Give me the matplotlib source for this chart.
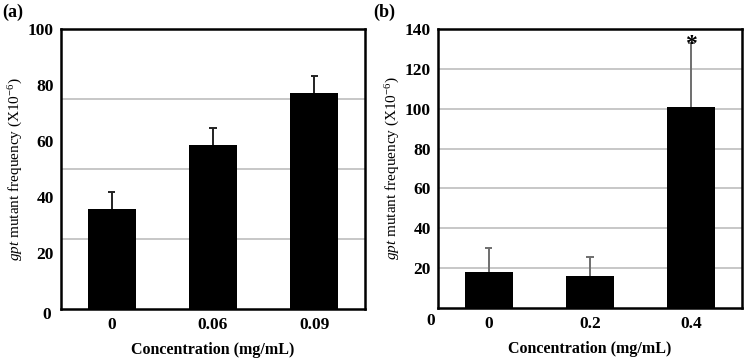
import matplotlib
matplotlib.use("Agg")
import matplotlib.pyplot as plt
import numpy as np

plt.rcParams["font.family"] = ["Liberation Serif", "DejaVu Serif"]
plt.rcParams["mathtext.fontset"] = "custom"
plt.rcParams["mathtext.rm"] = "Liberation Serif"
plt.rcParams["mathtext.it"] = "Liberation Serif:italic"

# panel (a)
conc_a = ["0", "0.06", "0.09"]
freq_a = [35.6, 58.4, 77.0]
err_a = [6.3, 6.3, 6.1]
yticks_a = [0, 20, 40, 60, 80, 100]
grid_a = [25, 50, 75]

# panel (b)
conc_b = ["0", "0.2", "0.4"]
freq_b = [18.2, 16.1, 100.7]
err_b = [12.1, 9.5, 32.4]
yticks_b = [0, 20, 40, 60, 80, 100, 120, 140]
grid_b = [20, 40, 60, 80, 100, 120]

ylab = r"$\it{gpt}$ mutant frequency (X10$^{-6}$)"

fig = plt.figure(figsize=(7.44, 3.6), dpi=100)
ax_a = fig.add_axes([61/744, 51/360, 304/744, 280/360])
ax_b = fig.add_axes([438/744, 52/360, 304/744, 279/360])


def panel(ax, conc, freq, err, yticks, grid, ymax, ecol, zero_off):
    x = np.arange(len(conc))
    top = np.array(freq) + np.array(err)
    for g in grid:
        ax.axhline(g, color="#b8b8b8", lw=1.1, zorder=0)
    ax.bar(x, freq, width=0.475, color="black", zorder=2)
    # upper error bars only
    ax.vlines(x, freq, top, color=ecol, lw=1.4, zorder=3)
    ax.hlines(top, x - 0.035, x + 0.035, color=ecol, lw=1.4, zorder=3)
    ax.set_xlim(-0.5, 2.5)
    ax.set_ylim(0, ymax)
    ax.set_xticks(x)
    ax.set_xticklabels(conc, fontsize=12.5, fontweight="bold")
    ax.set_yticks(yticks[1:])
    ax.set_yticklabels([str(t) for t in yticks[1:]], fontsize=12.5, fontweight="bold")
    ax.tick_params(length=0, pad=5)
    ax.tick_params(axis="x", pad=6)
    # the "0" label sits a little below the axis
    ax.annotate("0", xy=(0, 0), xycoords=("axes fraction", "data"),
                xytext=zero_off, textcoords="offset points",
                ha="center", va="center", fontsize=12.5, fontweight="bold")
    for s in ax.spines.values():
        s.set_linewidth(1.8)
        s.set_color("black")
    ax.set_xlabel("Concentration (mg/mL)", fontsize=11.5, fontweight="bold", labelpad=6)
    ax.set_ylabel(ylab, fontsize=11, labelpad=2)
    return x


panel(ax_a, conc_a, freq_a, err_a, yticks_a, grid_a, 100, "#222222", (-10.5, -4))
xb = panel(ax_b, conc_b, freq_b, err_b, yticks_b, grid_b, 140, "#6e6e6e", (-5.5, -9.5))

ax_b.annotate("*", xy=(xb[2], freq_b[2] + err_b[2]), xytext=(0, -9),
              textcoords="offset points", ha="center", va="bottom",
              fontsize=17, fontweight="bold")

fig.text(2/744, 1 - 12/360, "(a)", fontsize=13, fontweight="bold", va="center")
fig.text(373/744, 1 - 12/360, "(b)", fontsize=13, fontweight="bold", va="center")

fig.savefig("out.png", dpi=100)
